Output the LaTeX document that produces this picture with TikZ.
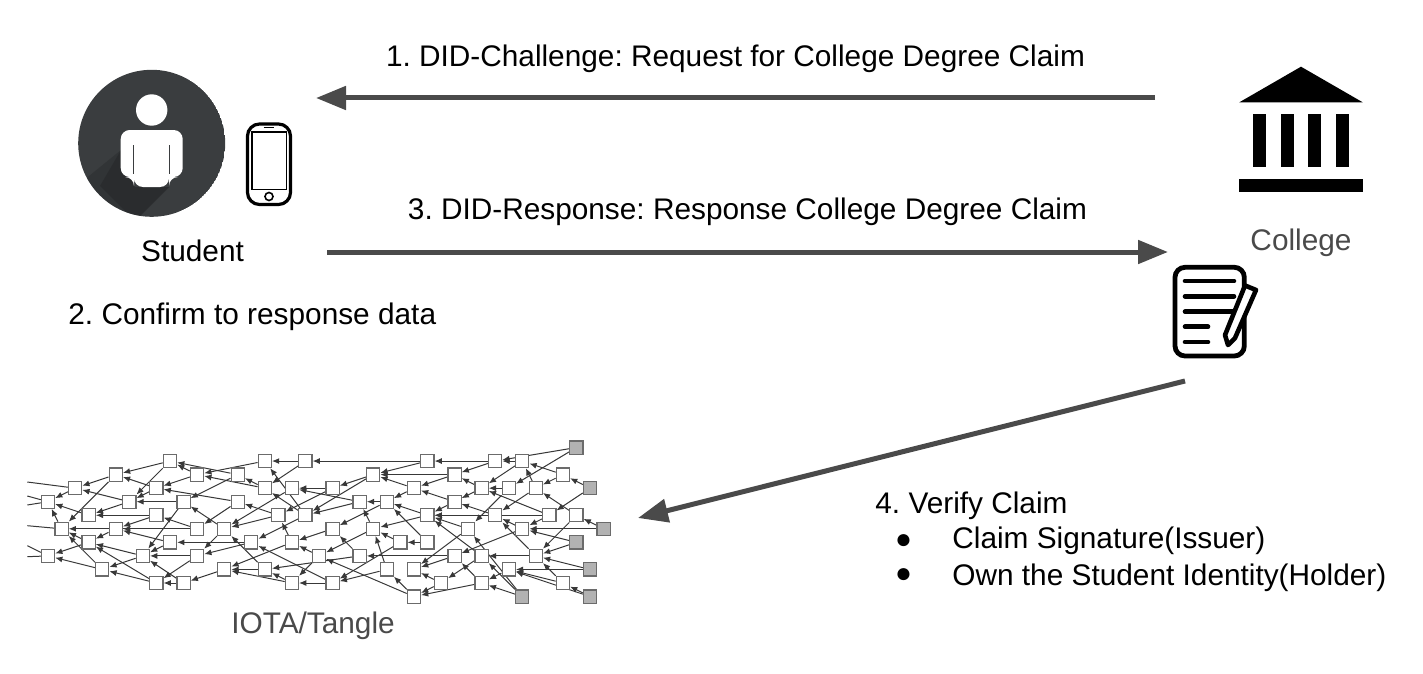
\documentclass[tikz,border=0pt]{standalone}
\usepackage{fontspec}
\setmainfont{Liberation Sans}
\usetikzlibrary{arrows.meta,backgrounds}
\definecolor{flowgray}{HTML}{4A4A4A}
\definecolor{diskgray}{HTML}{3A3D3F}
\tikzset{
	lbl/.style={inner sep=0pt,font=\fontsize{14.9}{17}\selectfont\frenchspacing},
	lblgray/.style={lbl,text=flowgray},
	flow/.style={draw=flowgray,line width=2.5pt,-{Triangle[length=15pt,width=11.5pt]}},
	txbox/.style={draw=black!58,line width=0.6pt,fill=white,minimum size=6.6pt,inner sep=0pt},
	tipbox/.style={txbox,fill=black!30},
	txedge/.style={draw=black!78,line width=0.5pt,-{Latex[length=3.6pt,width=3pt]}},
	cutedge/.style={draw=black!78,line width=0.5pt}
}
\begin{document}
\begin{tikzpicture}[x=0.5pt,y=-0.5pt]
	\useasboundingbox (0,0) rectangle (1423,674);

	\begin{scope}
		\clip (151.7,143.3) circle (73.5);
		\fill[diskgray] (151.7,143.3) circle (73.5);
		\fill[black,opacity=0.14] (121,150) -- (135,187) -- (169,187) -- (110,246) -- (62,198) -- cycle;
		\fill[black,opacity=0.14] (121,150) -- (135,187) -- (169,187) -- (135,221) -- (100,186) -- cycle;
	\end{scope}
	\fill[white] (151.7,110) circle (15.7);
	\fill[white,rounded corners=4.5] (120.7,130) -- (182.7,130) -- (182.7,177) -- (169,177) -- (169,187) -- (134,187) -- (134,177) -- (120.7,177) -- cycle;
	\draw[diskgray,line width=0.6pt] (133.6,145) -- (133.6,174) (169.6,145) -- (169.6,174);

	\draw[black,line width=1.6pt,rounded corners=6] (247.5,124) rectangle (290.5,204.5);
	\draw[black,line width=0.8pt] (252,132) rectangle (286.5,189.5);
	\draw[black,line width=0.8pt] (263.5,127.6) -- (273.5,127.6);
	\draw[black,line width=0.8pt] (269,196.5) circle (4);

	\fill[black] (1301,66.7) -- (1362.7,102.3) -- (1239.3,102.3) -- cycle;
	\foreach \i in {0,...,3}
	{
		\fill[black] (1253.3 + \i * 27.5,114.3) rectangle (1266.3 + \i * 27.5,166.7);
	}
	\fill[black] (1239,179.3) rectangle (1363.3,191.7);

	\draw[black,line width=2.4pt,rounded corners=5] (1175,267.3) rectangle (1244.3,356);
	\foreach \j/\k in {281/1234,296.3/1234,311.7/1234,326.7/1208,342/1208}
	{
		\draw[black,line width=2.3pt,line cap=round] (1185,\j) -- (\k,\j);
	}
	\draw[black,fill=white,line width=2.3pt,line join=round] (1245,285.5) -- (1256,290) -- (1235,338) -- (1228,345) -- (1225,335) -- cycle;

	\node[lbl,anchor=base] (challenge) at (735.5,67) {1. DID-Challenge: Request for College Degree Claim};
	\node[lbl,anchor=base] (response) at (747.5,219) {3. DID-Response: Response College Degree Claim};
	\node[lbl,anchor=base] (student) at (192.5,261) {Student};
	\node[lblgray,anchor=base] (college) at (1301,250) {College};
	\node[lbl,anchor=base west] (confirm) at (68,324) {2. Confirm to response data};
	\node[lbl,anchor=base west] (verify) at (875,513) {4. Verify Claim};
	\node[lbl,anchor=base] (bulleta) at (903.5,548) {\fontsize{14}{16}\selectfont●};
	\node[lbl,anchor=base west] (signature) at (952,548) {Claim Signature(Issuer)};
	\node[lbl,anchor=base] (bulletb) at (903.5,582.5) {\fontsize{14}{16}\selectfont●};
	\node[lbl,anchor=base west] (holder) at (952,585) {Own the Student Identity(Holder)};
	\node[lblgray,anchor=base] (iota) at (313,633) {IOTA/Tangle};

	\coordinate (challengefrom) at (1155,98);
	\coordinate (challengeto) at (316,98);
	\coordinate (responsefrom) at (327,252);
	\coordinate (responseto) at (1168,252);
	\coordinate (verifyfrom) at (1185,381);
	\coordinate (verifyto) at (638,518);
	\draw[flow] (challengefrom) -- (challengeto);
	\draw[flow] (responsefrom) -- (responseto);
	\draw[flow] (verifyfrom) -- (verifyto);

	\foreach \c/\r in {0/4,0/8,1/6,2/3,3/5,3/7,4/9,5/2,5/6,6/4,7/8,8/3,8/5,8/10,9/1,9/7,10/4,10/10,11/2,11/6,11/8,13/6,13/9,14/2,14/4,15/7,16/1,16/3,16/9,17/5,18/3,18/7,18/10,19/1,19/5,20/8,21/3,21/6,21/10,23/4,23/8,24/2,24/6,25/4,25/9,26/7,27/3,27/9,27/11,28/1,28/5,28/7,29/10,30/2,30/4,30/8,31/6,32/3,32/8,32/10,33/1,33/5,34/3,34/9,35/1,35/6,36/3,36/8,37/5,38/2,38/10,39/5}
	{
		\node[txbox] (t\c-\r) at (48 + 13.55 * \c,447.5 + 13.55 * \r) {};
	}
	\foreach \c/\r in {35/11,39/0,39/7,40/3,40/9,40/11,41/6}
	{
		\node[tipbox] (t\c-\r) at (48 + 13.55 * \c,447.5 + 13.55 * \r) {};
	}

	\coordinate (cuta) at (27.3,482);
	\coordinate (cutb) at (27.3,496);
	\coordinate (cutc) at (27.3,505);
	\coordinate (cutd) at (27.3,525.7);
	\coordinate (cute) at (27.3,545.7);
	\coordinate (cutf) at (27.3,556.7);

	\begin{scope}[on background layer]
		\foreach \a/\b in {a/2-3,b/0-4,c/0-4,d/1-6,e/0-8,f/0-8}
		{
			\draw[cutedge] (cut\a) -- (t\b);
		}
		\foreach \a/\b in {2-3/0-4,5-2/2-3,6-4/2-3,1-6/0-4,3-5/0-4,5-2/1-6,8-5/3-5,6-4/3-5,3-7/1-6,11-6/1-6,4-9/1-6,3-7/0-8,4-9/0-8,5-6/3-7,7-8/3-7,8-10/3-7,9-1/5-2,8-3/5-2,9-1/6-4,8-3/6-4,10-4/6-4,11-2/9-1,14-4/8-3,11-2/8-3,14-2/9-1,16-1/11-2,16-3/11-2,14-2/10-4,16-3/14-2,8-5/5-6,9-7/5-6,11-6/5-6,11-6/8-5,9-7/7-8,10-4/7-8,11-8/7-8,8-10/4-9,7-8/4-9,11-8/8-10,10-10/8-10,10-10/7-8,13-9/10-10,14-4/11-6,13-6/11-8,15-7/9-7,15-7/11-8,16-9/13-9,18-10/13-9,18-7/13-9,16-9/13-6,13-6/10-4,19-1/16-1,19-1/16-3,19-5/16-1,19-5/16-3,17-5/14-4,17-5/13-6,18-3/13-6,21-3/17-5,19-5/15-7,21-6/18-7,18-7/17-5,28-1/19-1,33-1/28-1,21-3/18-3,24-2/19-5,23-4/18-3,23-4/19-5,24-2/21-3,20-8/18-7,21-10/18-10,23-8/16-9,18-10/16-9,20-8/18-10,21-10/15-7,24-6/20-8,27-11/20-8,25-4/21-6,23-8/21-6,24-6/23-4,25-4/23-4,27-3/25-4,28-5/25-4,28-7/25-4,26-7/24-6,25-9/24-6,28-5/24-6,28-7/26-7,26-7/21-10,25-9/21-10,27-11/25-9,29-10/27-9,30-8/27-9,31-6/27-9,29-10/27-11,32-8/29-10,32-10/30-8,32-10/27-11,35-11/32-10,35-11/32-8,30-8/23-8,32-8/28-5,36-8/32-8,35-6/30-8,34-9/32-10,35-11/31-6,31-6/28-5,33-5/28-5,37-5/28-5,35-6/33-5,36-3/33-5,36-8/33-5,30-4/28-5,32-3/30-4,33-5/30-4,30-4/27-3,30-2/27-3,30-2/24-2,28-1/24-2,27-3/24-2,33-1/30-2,32-3/30-2,35-1/33-1,39-0/33-1,35-1/32-3,39-0/34-3,34-3/32-3,34-3/31-6,36-3/35-1,38-2/35-1,38-2/36-3,40-3/38-2,40-3/37-5,39-5/36-3,37-5/35-6,41-6/39-5,41-6/35-6,39-7/35-6,39-5/36-8,39-7/36-8,40-9/36-8,38-10/36-8,38-10/34-9,40-9/34-9,40-11/34-9,40-11/38-10,37-5/32-3}
		{
			\draw[txedge] (t\a) -- (t\b);
		}
	\end{scope}
\end{tikzpicture}
\end{document}
